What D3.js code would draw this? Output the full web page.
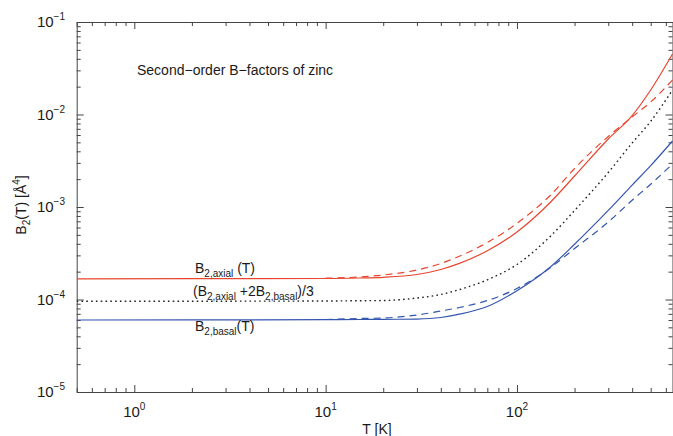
<!DOCTYPE html>
<html><head><meta charset="utf-8">
<script src="https://cdn.jsdelivr.net/npm/d3@7"></script>
<style>body{margin:0;background:#fff} svg{display:block} text{font-family:"Liberation Sans",Arial,sans-serif;fill:#1a1a1a}</style>
</head><body><svg id="c" width="673" height="436"></svg>
<script>
// ---- data ----
const temps = [0.5, 10, 15, 20, 30, 40, 50, 70, 100, 150, 200, 300, 400, 500, 650];
const axialSolid = [1.674e-4, 1.687e-4, 1.708e-4, 1.738e-4, 1.864e-4, 2.110e-4, 2.457e-4, 3.362e-4, 5.366e-4, 1.133e-3, 2.163e-3, 5.435e-3, 9.73e-3, 1.840e-2, 4.51e-2];
const basalSolid = [6.00e-5, 6.045e-5, 6.075e-5, 6.105e-5, 6.15e-5, 6.39e-5, 6.94e-5, 8.40e-5, 1.245e-4, 2.262e-4, 3.961e-4, 9.19e-4, 1.725e-3, 2.80e-3, 5.17e-3];
const meanDotted = [9.56e-5, 9.63e-5, 9.70e-5, 9.75e-5, 1.038e-4, 1.133e-4, 1.279e-4, 1.633e-4, 2.390e-4, 4.859e-4, 9.17e-4, 2.36e-3, 4.92e-3, 8.44e-3, 1.84e-2];
const tempsDashed = [10, 15, 20, 30, 40, 50, 70, 100, 150, 200, 300, 400, 500, 650];
const axialDashed = [1.70e-4, 1.751e-4, 1.840e-4, 2.084e-4, 2.450e-4, 2.938e-4, 4.132e-4, 6.664e-4, 1.348e-3, 2.608e-3, 5.783e-3, 9.40e-3, 1.365e-2, 2.36e-2];
const basalDashed = [6.075e-5, 6.23e-5, 6.31e-5, 6.80e-5, 7.51e-5, 8.19e-5, 9.75e-5, 1.315e-4, 2.218e-4, 3.558e-4, 6.88e-4, 1.184e-3, 1.764e-3, 2.917e-3];
const xTickExp = [0, 1, 2];
const yTickExp = [-5, -4, -3, -2, -1];
const titleText = "Second\u2212order B\u2212factors of zinc";

// ---- layout ----
const L = 76.7, R = 672.5, T = 22, B = 392;
const svg = d3.select("#c");
const x = d3.scaleLog().domain([0.5, 650]).range([L, R]);
const y = d3.scaleLog().domain([1e-5, 1e-1]).range([B, T]);

function minorTicks(dom) {
  const out = [];
  const lo = Math.floor(Math.log10(dom[0])), hi = Math.ceil(Math.log10(dom[1]));
  for (let e = lo; e <= hi; e++) for (let m = 2; m <= 9; m++) {
    const v = m * Math.pow(10, e);
    if (v >= dom[0] && v <= dom[1]) out.push(v);
  }
  return out;
}
const xMajor = xTickExp.map(e => Math.pow(10, e));
const yMajor = yTickExp.map(e => Math.pow(10, e));
const xMinor = minorTicks(x.domain());
const yMinor = minorTicks(y.domain());

const axisColor = "#444";
function styleAxis(g) {
  g.selectAll("path").attr("stroke", axisColor).attr("stroke-width", 1);
  g.selectAll("line").attr("stroke", axisColor).attr("stroke-width", 1);
  g.selectAll("text").remove();
}
// bottom & top
[[d3.axisBottom, B, -1], [d3.axisTop, T, -1]].forEach(([fn, pos]) => {
  svg.append("g").attr("transform", `translate(0,${pos})`)
    .call(fn(x).tickValues(xMajor).tickSizeInner(-7).tickSizeOuter(0).tickFormat("")).call(styleAxis);
  svg.append("g").attr("transform", `translate(0,${pos})`)
    .call(fn(x).tickValues(xMinor).tickSizeInner(-4).tickSizeOuter(0).tickFormat("")).call(styleAxis)
    .select("path").remove();
});
[[d3.axisLeft, L], [d3.axisRight, R]].forEach(([fn, pos]) => {
  svg.append("g").attr("transform", `translate(${pos},0)`)
    .call(fn(y).tickValues(yMajor).tickSizeInner(-7).tickSizeOuter(0).tickFormat("")).call(styleAxis);
  svg.append("g").attr("transform", `translate(${pos},0)`)
    .call(fn(y).tickValues(yMinor).tickSizeInner(-4).tickSizeOuter(0).tickFormat("")).call(styleAxis)
    .select("path").remove();
});

// tick labels
xTickExp.forEach(e => {
  const t = svg.append("text").attr("x", x(Math.pow(10, e))).attr("y", 417)
    .attr("text-anchor", "middle").attr("font-size", 15);
  t.append("tspan").text("10");
  t.append("tspan").attr("dy", -7).attr("font-size", 10).text(String(e));
});
yTickExp.forEach(e => {
  const t = svg.append("text").attr("x", 65).attr("y", y(Math.pow(10, e)) + 5)
    .attr("text-anchor", "end").attr("font-size", 15);
  t.append("tspan").text("10");
  t.append("tspan").attr("dy", -7).attr("font-size", 10).text("\u2212" + Math.abs(e));
});

// axis titles
svg.append("text").attr("x", 377).attr("y", 434).attr("text-anchor", "middle")
  .attr("font-size", 14).text("T [K]");
const yt = svg.append("text").attr("transform", "translate(26,205) rotate(-90)")
  .attr("text-anchor", "middle").attr("font-size", 14);
yt.append("tspan").text("B");
yt.append("tspan").attr("dy", 4).attr("font-size", 10).text("2");
yt.append("tspan").attr("dy", -4).text("(T) [\u00C5");
yt.append("tspan").attr("dy", -6).attr("font-size", 10).text("4");
yt.append("tspan").attr("dy", 6).text("]");

// title
svg.append("text").attr("x", 137).attr("y", 75).attr("font-size", 14).text(titleText);

// curves
const line = d3.line().x(d => x(d[0])).y(d => y(d[1])).curve(d3.curveMonotoneX);
const red = "#e8462e", blue = "#3556b0";
const clip = svg.append("clipPath").attr("id", "pc").append("rect")
  .attr("x", L).attr("y", T).attr("width", R - L + 2).attr("height", B - T);
const plot = svg.append("g").attr("clip-path", "url(#pc)");
function draw(xs, ys, color, dash, w) {
  plot.append("path").datum(xs.map((t, i) => [t, ys[i]]))
    .attr("d", line).attr("fill", "none").attr("stroke", color)
    .attr("stroke-width", w).attr("stroke-dasharray", dash);
}
draw(tempsDashed, axialDashed, red, "7,5", 1.2);
draw(tempsDashed, basalDashed, blue, "7,5", 1.2);
draw(temps, meanDotted, "#222", "1.6,3.2", 1.4);
draw(temps, axialSolid, red, null, 1.2);
draw(temps, basalSolid, blue, null, 1.2);

// curve labels
function subLabel(xp, yp, parts) {
  const t = svg.append("text").attr("x", xp).attr("y", yp).attr("font-size", 14);
  let shift = 0;
  parts.forEach(([s, sub]) => {
    const dy = (sub ? 4 : 0) - shift;
    shift = sub ? 4 : 0;
    t.append("tspan").attr("dy", dy).attr("font-size", sub ? 10 : 14).text(s);
  });
}
subLabel(195, 273, [["B", 0], ["2,axial", 1], [" (T)", 0]]);
subLabel(193, 296, [["(B", 0], ["2,axial", 1], [" +2B", 0], ["2,basal", 1], [")/3", 0]]);
subLabel(195, 331, [["B", 0], ["2,basal", 1], ["(T)", 0]]);
</script></body></html>
